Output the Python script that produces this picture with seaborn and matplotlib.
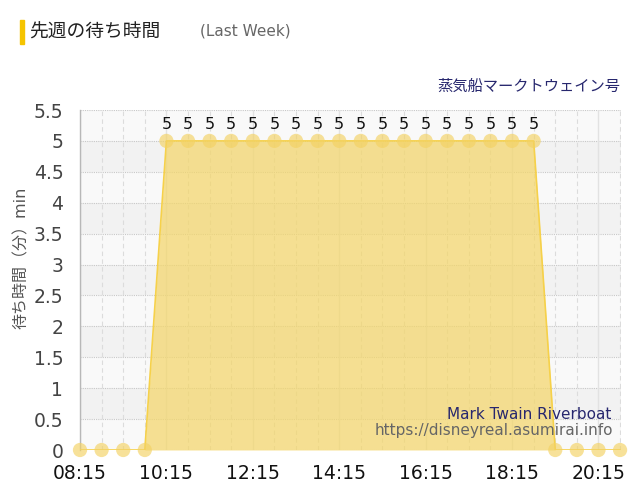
#!/usr/bin/env python3
"""Last-week wait times for the Mark Twain Riverboat."""
import matplotlib
matplotlib.use("Agg")
import matplotlib.pyplot as plt
import numpy as np
import pandas as pd
import seaborn as sns

times = ["08:15", "08:45", "09:15", "09:45", "10:15", "10:45", "11:15", "11:45",
         "12:15", "12:45", "13:15", "13:45", "14:15", "14:45", "15:15", "15:45",
         "16:15", "16:45", "17:15", "17:45", "18:15", "18:45", "19:15", "19:45",
         "20:15", "20:45"]
wait = [0, 0, 0, 0, 5, 5, 5, 5, 5, 5, 5, 5, 5, 5, 5, 5, 5, 5, 5, 5, 5, 5, 0, 0, 0, 0]
tick_labels = ["08:15", "10:15", "12:15", "14:15", "16:15", "18:15", "20:15"]
y_ticks = [0, 0.5, 1, 1.5, 2, 2.5, 3, 3.5, 4, 4.5, 5, 5.5]


def to_min(t):
    h, m = t.split(":")
    return int(h) * 60 + int(m)


df = pd.DataFrame({"t": [to_min(t) for t in times], "wait": wait})

sns.set_theme(style="white")
plt.rcParams["font.family"] = ["DejaVu Sans", "Noto Sans CJK JP"]

fig = plt.figure(figsize=(6.4, 5.0), dpi=100)
ax = fig.add_axes([0.125, 0.10, 0.845, 0.68])

x0, x1 = df["t"].min(), df["t"].max()
ax.set_xlim(x0, x1 + 1)
ax.set_ylim(0, 5.5)

# alternating bands
for i, lo in enumerate(np.arange(0, 5.5, 0.5)):
    ax.axhspan(lo, lo + 0.5, color="#f2f2f2" if i % 2 else "#f9f9f9", zorder=0, lw=0)

# grid
for y in y_ticks:
    ax.axhline(y, color="#c8c8c8", lw=0.8, ls=(0, (1, 1)), zorder=1)
for t in range(x0, x1 + 1, 30):
    if (t - x0) % 120 == 0:
        ax.axvline(t, color="#e2e2e2", lw=1.0, zorder=1)
    else:
        ax.axvline(t, color="#dcdcdc", lw=0.8, ls=(0, (4, 3)), zorder=1)

ax.fill_between(df["t"], df["wait"], color="#f4d66a", alpha=0.72, lw=0, zorder=2)
sns.lineplot(data=df, x="t", y="wait", ax=ax, color="#f6d14a", lw=1.2, zorder=3)
sns.scatterplot(data=df, x="t", y="wait", ax=ax, color="#f3d263", alpha=0.65,
                s=105, edgecolor="none", zorder=4, clip_on=False)

for t, v in zip(df["t"], df["wait"]):
    if v > 0:
        ax.text(t, v + 0.14, f"{v}", ha="center", va="bottom", fontsize=11.5, color="#111111")

ax.set_xticks([to_min(t) for t in tick_labels])
ax.set_xticklabels(tick_labels, fontsize=13.5, color="#111111")
ax.set_yticks(y_ticks)
ax.set_yticklabels([f"{y:g}" for y in y_ticks], fontsize=13.5, color="#444444")
ax.tick_params(axis="y", length=10, width=1, color="#dddddd", pad=2)
ax.tick_params(axis="x", length=8, width=1, color="#e2e2e2", pad=2)
ax.set_xlabel("")
ax.set_ylabel("待ち時間（分）min", fontsize=11.5, color="#555555", labelpad=4)
ax.yaxis.set_label_coords(-0.095, 0.565)

for side in ["top", "right", "bottom"]:
    ax.spines[side].set_visible(False)
ax.spines["left"].set_color("#b8b8b8")
ax.spines["left"].set_linewidth(1)

ax.text(0.983, 0.105, "Mark Twain Riverboat", transform=ax.transAxes, ha="right",
        va="center", fontsize=11, color="#27276e", zorder=5)
ax.text(0.985, 0.057, "https://disneyreal.asumirai.info", transform=ax.transAxes,
        ha="right", va="center", fontsize=11, color="#666666", zorder=5)

# header
fig.patches.append(plt.Rectangle((20 / 640, 1 - 44 / 500), 4 / 640, 24 / 500,
                                 transform=fig.transFigure, color="#f5c400"))
fig.text(29 / 640, 1 - 32 / 500, "先週の待ち時間", fontsize=13.5, color="#222222", va="center")
fig.text(200 / 640, 1 - 31 / 500, "(Last Week)", fontsize=11, color="#666666", va="center")
fig.text(620 / 640, 1 - 86 / 500, "蒸気船マークトウェイン号", fontsize=11,
         color="#27276e", ha="right", va="center")

fig.savefig("out.png", dpi=100)
plt.close(fig)
